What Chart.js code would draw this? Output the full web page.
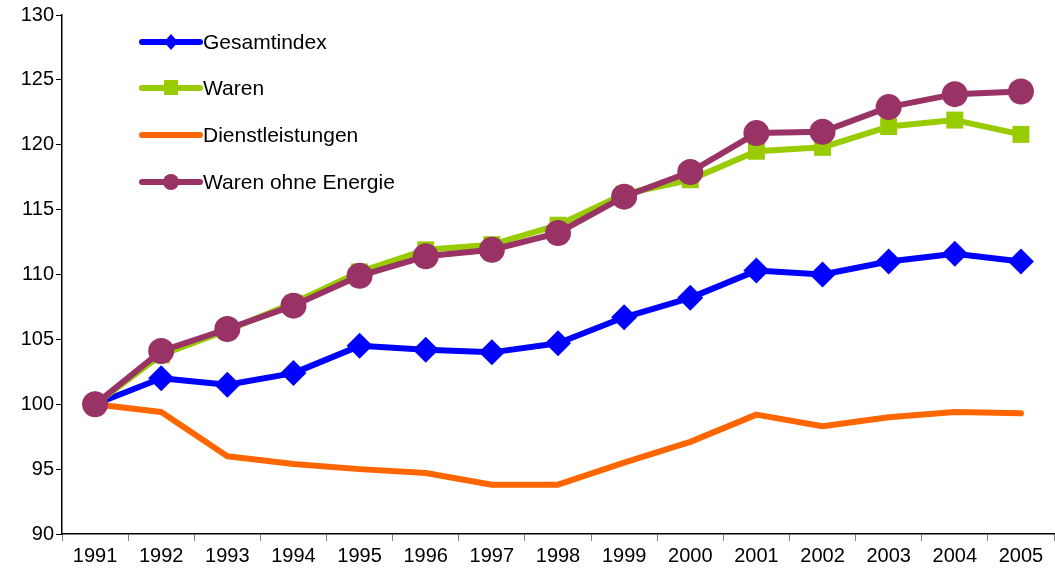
<!DOCTYPE html>
<html>
<head>
<meta charset="utf-8">
<script src="https://cdn.jsdelivr.net/npm/chart.js@4"></script>
<style>
  html, body { margin: 0; padding: 0; background: #fff; }
  #wrap { width: 1055px; height: 576px; }
</style>
</head>
<body>
<div id="wrap"><canvas id="chart"></canvas></div>
<script>
// Jahre und Indexwerte (1991 = 100)
const years = ['1991','1992','1993','1994','1995','1996','1997','1998','1999','2000','2001','2002','2003','2004','2005'];
const gesamtindex = [100, 102.0, 101.5, 102.4, 104.5, 104.2, 104.0, 104.7, 106.7, 108.2, 110.3, 110.0, 111.0, 111.6, 111.0];
const waren = [100, 103.8, 105.7, 107.8, 110.2, 111.9, 112.3, 113.8, 116.2, 117.3, 119.5, 119.8, 121.4, 121.9, 120.8];
const dienstleistungen = [100, 99.4, 96.0, 95.4, 95.0, 94.7, 93.8, 93.8, 95.5, 97.1, 99.2, 98.3, 99.0, 99.4, 99.3];
const warenOhneEnergie = [100, 104.1, 105.8, 107.6, 109.9, 111.4, 111.9, 113.2, 116.0, 117.9, 120.9, 121.0, 122.9, 123.9, 124.1];
const yTicks = [90, 95, 100, 105, 110, 115, 120, 125, 130];

const FONT = 'Arial, "Liberation Sans", sans-serif';

// Legende oben links im Diagramm, wie im Original
const innerLegend = {
    id: 'innerLegend',
    afterDraw(chart) {
        const ctx = chart.ctx;
        const x0 = 142, x1 = 200;
        const rows = [42, 88, 135, 182];
        chart.data.datasets.forEach((ds, i) => {
            const y = rows[i];
            ctx.save();
            ctx.strokeStyle = ds.borderColor;
            ctx.lineWidth = 6;
            ctx.lineCap = 'round';
            ctx.beginPath();
            ctx.moveTo(x0, y);
            ctx.lineTo(x1, y);
            ctx.stroke();
            const mx = (x0 + x1) / 2;
            ctx.fillStyle = ds.borderColor;
            if (ds.legendMarker === 'rectRot') {
                ctx.beginPath();
                ctx.moveTo(mx, y - 8); ctx.lineTo(mx + 7, y); ctx.lineTo(mx, y + 8); ctx.lineTo(mx - 7, y);
                ctx.closePath(); ctx.fill();
            } else if (ds.legendMarker === 'rect') {
                ctx.fillRect(mx - 7, y - 8, 14, 15);
            } else if (ds.legendMarker === 'circle') {
                ctx.beginPath(); ctx.arc(mx, y, 8, 0, Math.PI * 2); ctx.fill();
            }
            ctx.fillStyle = '#000';
            ctx.font = '21px ' + FONT;
            ctx.textBaseline = 'middle';
            ctx.fillText(ds.label, x1 + 3, y + 1);
            ctx.restore();
        });
    }
};

new Chart(document.getElementById('chart'), {
    type: 'line',
    data: {
        labels: years,
        datasets: [
            {
                label: 'Gesamtindex', data: gesamtindex,
                borderColor: '#0000ff', backgroundColor: '#0000ff',
                borderWidth: 6, pointStyle: 'rectRot', pointRadius: 13, pointBorderWidth: 0,
                legendMarker: 'rectRot', order: 2
            },
            {
                label: 'Waren', data: waren,
                borderColor: '#99cc00', backgroundColor: '#99cc00',
                borderWidth: 6, pointStyle: 'rect', pointRadius: 12, pointBorderWidth: 0,
                legendMarker: 'rect', order: 1
            },
            {
                label: 'Dienstleistungen', data: dienstleistungen,
                borderColor: '#ff6600', backgroundColor: '#ff6600',
                borderWidth: 6, pointRadius: 0,
                legendMarker: 'none', order: 3
            },
            {
                label: 'Waren ohne Energie', data: warenOhneEnergie,
                borderColor: '#993366', backgroundColor: '#993366',
                borderWidth: 6, pointStyle: 'circle', pointRadius: 13, pointBorderWidth: 0,
                legendMarker: 'circle', order: 0
            }
        ]
    },
    options: {
        responsive: true,
        maintainAspectRatio: false,
        animation: false,
        layout: { autoPadding: false, padding: { top: 15, right: 1, left: 0, bottom: 5 } },
        plugins: { legend: { display: false }, tooltip: { enabled: false } },
        elements: { line: { tension: 0, borderJoinStyle: 'round', borderCapStyle: 'round' } },
        scales: {
            x: {
                offset: true,
                afterFit(axis) { axis.paddingLeft = 0; axis.paddingRight = 0; },
                grid: { display: true, drawOnChartArea: false, offset: true, tickLength: 7, color: '#808080' },
                border: { color: '#000', width: 1.5 },
                ticks: { color: '#000', font: { family: FONT, size: 20 }, padding: 3, maxRotation: 0, autoSkip: false }
            },
            y: {
                min: 90, max: 130,
                afterBuildTicks(axis) { axis.ticks = yTicks.map(v => ({ value: v })); },
                afterFit(axis) { axis.width = 62; axis.paddingTop = 0; axis.paddingBottom = 0; },
                grid: { display: true, drawOnChartArea: false, tickLength: 6, color: '#000' },
                border: { color: '#000', width: 1.5 },
                ticks: { color: '#000', font: { family: FONT, size: 20 }, padding: 2 }
            }
        }
    },
    plugins: [innerLegend]
});
</script>
</body>
</html>
